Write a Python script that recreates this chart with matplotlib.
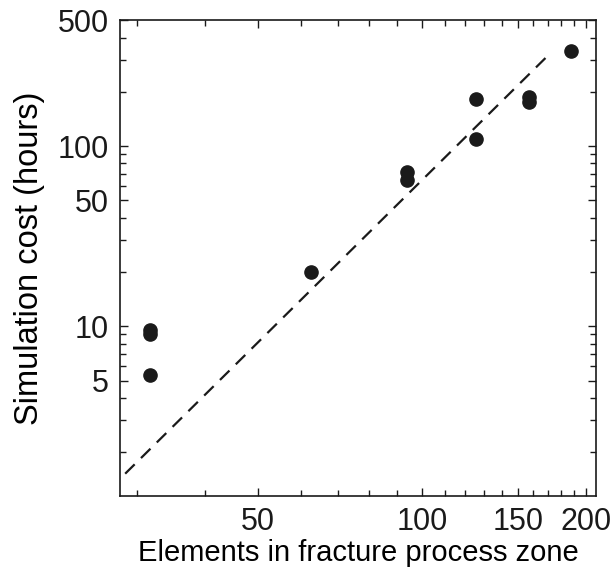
import numpy as np
import matplotlib
matplotlib.use('Agg')
import matplotlib.pyplot as plt
from matplotlib.ticker import FixedLocator, NullFormatter, FixedFormatter

# data (log-log)
elements = [31.6, 31.6, 31.6, 62.5, 94, 94, 125.5, 125.5, 157, 157, 188]
cost_hours = [9.5, 9.0, 5.35, 20, 71.5, 65, 182, 109, 187, 175, 335]

# dashed trend line (slope ~3 in log-log), end points
fit_x = [28.5, 173]
fit_y = [1.52, 333]

xticks = [50, 100, 150, 200]
yticks = [5, 10, 50, 100, 500]

matplotlib.rcParams.update({'font.size': 21, 'font.family': 'Liberation Sans'})

fig = plt.figure(figsize=(6.13, 5.73), dpi=100)
ax = fig.add_axes([0.196, 0.134, 0.776, 0.831])

ax.loglog(fit_x, fit_y, '--', color='#1a1a1a', lw=1.6, dashes=(6, 4))
ax.plot(elements, cost_hours, 'o', color='#1a1a1a', ms=9.5)

ax.set_xlim(27.9, 208.5)
ax.set_ylim(1.14, 500)

ax.xaxis.set_major_locator(FixedLocator(xticks))
ax.xaxis.set_major_formatter(FixedFormatter([str(t) for t in xticks]))
xminor = [30, 40, 60, 70, 80, 90, 110, 120, 130, 140, 160, 170, 180, 190]
ax.xaxis.set_minor_locator(FixedLocator(xminor))
ax.xaxis.set_minor_formatter(NullFormatter())

ax.yaxis.set_major_locator(FixedLocator(yticks))
ax.yaxis.set_major_formatter(FixedFormatter([str(t) for t in yticks]))
yminor = [2, 3, 4, 6, 7, 8, 9, 20, 30, 40, 60, 70, 80, 90, 200, 300, 400]
ax.yaxis.set_minor_locator(FixedLocator(yminor))
ax.yaxis.set_minor_formatter(NullFormatter())

ax.tick_params(which='both', direction='in', top=True, right=True, width=1.0, colors='#1a1a1a', labelsize=22)
ax.tick_params(which='major', length=6, pad=8)
ax.tick_params(which='minor', length=4)
for s in ax.spines.values():
	s.set_linewidth(1.2)
	s.set_color('#1a1a1a')

ax.set_xlabel('Elements in fracture process zone', fontsize=21, labelpad=1)
ax.set_ylabel('Simulation cost (hours)', fontsize=23.5, labelpad=9)

plt.savefig('out.png', dpi=100)
